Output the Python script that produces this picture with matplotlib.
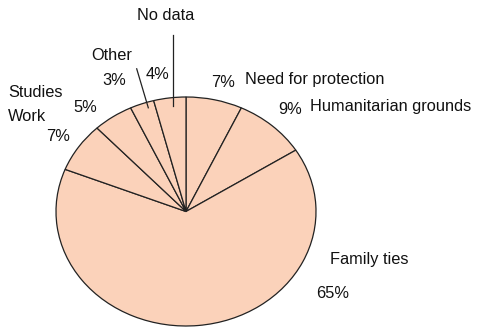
import matplotlib.pyplot as plt

plt.rcParams['font.family'] = ['Liberation Sans', 'DejaVu Sans']

# Share of permits by reason, clockwise from the top
reasons = ['Need for protection', 'Humanitarian grounds', 'Family ties',
           'Work', 'Studies', 'Other', 'No data']
shares = [7, 9, 65, 7, 5, 3, 4]

fig = plt.figure(figsize=(4.82, 3.27), dpi=100)
# pie stretched sideways: axes box wider than tall, aspect left on auto
ax = fig.add_axes([56 / 482, 1 / 327, 260 / 482, 229 / 327])
wedges, _ = ax.pie(shares, startangle=90, counterclock=False,
                   colors=['#fbd2ba'] * len(shares),
                   wedgeprops=dict(edgecolor='#222222', linewidth=0.9))
for w in wedges:
    w.set_clip_on(False)
ax.set_xlim(-1, 1)
ax.set_ylim(-1, 1)
ax.set_aspect('auto')
ax.axis('off')

cx, cy, rx, ry = 186, 211.7, 130, 114.5


def px(x, y):
    # pixel position (from top-left) -> data coords of the pie axes
    return (x - cx) / rx, (cy - y) / ry


fs = 11.8
# (name position, percent position) in pixels
name_pos = {
    'Need for protection': (245, 80, 'left'),
    'Humanitarian grounds': (310, 107, 'left'),
    'Family ties': (369, 260, 'center'),
    'Work': (27, 117, 'center'),
    'Studies': (36, 93, 'center'),
    'Other': (112, 56, 'center'),
    'No data': (166, 16, 'center'),
}
pct_pos = {
    'Need for protection': (223, 83),
    'Humanitarian grounds': (290, 110),
    'Family ties': (333, 294),
    'Work': (58, 137),
    'Studies': (85, 108),
    'Other': (114, 81),
    'No data': (158, 75),
}
for name, val in zip(reasons, shares):
    nx, ny, ha = name_pos[name]
    ax.text(*px(nx, ny), name, ha=ha, va='center', fontsize=fs, color='#111111')
    ax.text(*px(*pct_pos[name]), f'{val}%', ha='center', va='center',
            fontsize=fs, color='#111111')

# leader lines for the small slices
ax.plot(*zip(px(173, 35), px(173, 106)), color='#222222', lw=0.9, clip_on=False)
ax.plot(*zip(px(136.7, 69), px(148.3, 108)), color='#222222', lw=0.9, clip_on=False)

fig.savefig('out.png', dpi=100)
